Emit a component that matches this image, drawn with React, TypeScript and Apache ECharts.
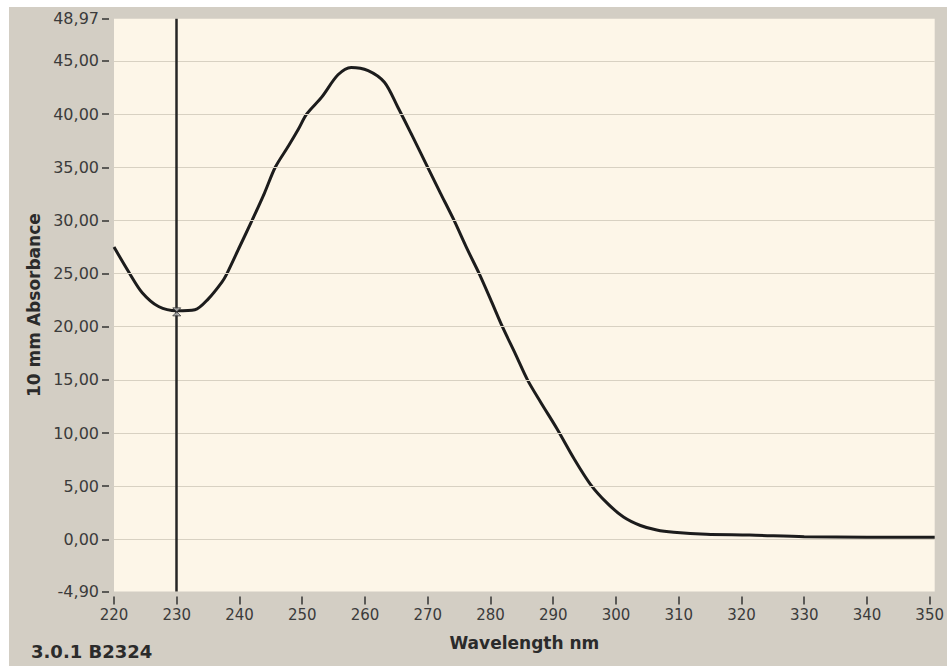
import React, { useEffect, useRef } from "react";
import * as echarts from "echarts";

// ---- data ----
const wavelengths = [
  220, 222.4, 224.5, 227.1, 230, 232.9, 235, 237.2, 238, 240, 242, 244, 245.7,
  247.8, 249.4, 250.7, 253.1, 255.7, 257.8, 260.5, 263.1, 265.2, 267.5, 270,
  272, 274.2, 276.3, 278.2, 280, 281.9, 284, 285.9, 288, 290.6, 293.3, 295.9,
  298.6, 301.2, 303.9, 306.5, 309.2, 314.4, 321.3, 330, 340, 350.8,
];
const absorbance = [
  27.5, 25.1, 23.2, 21.9, 21.5, 21.6, 22.6, 24.2, 25.0, 27.5, 30.0, 32.6, 35.0,
  37.0, 38.6, 40.0, 41.6, 43.7, 44.4, 44.1, 43.0, 40.7, 38.0, 35.0, 32.6, 30.0,
  27.3, 25.0, 22.6, 20.0, 17.4, 15.0, 12.9, 10.4, 7.6, 5.2, 3.4, 2.1, 1.3, 0.87,
  0.66, 0.47, 0.4, 0.25, 0.2, 0.2,
];
const xTickValues = [220, 230, 240, 250, 260, 270, 280, 290, 300, 310, 320, 330, 340, 350];
const yTickValues = [-4.9, 0, 5, 10, 15, 20, 25, 30, 35, 40, 45, 48.97];
const gridLineValues = [0, 5, 10, 15, 20, 25, 30, 35, 40, 45];
const xMin = 220;
const xMax = 350.8;
const yMin = -4.9;
const yMax = 48.97;
const cursorWavelength = 230;
const cursorAbsorbance = 21.4;
const xAxisTitle = "Wavelength nm";
const yAxisTitle = "10 mm Absorbance";
const footnote = "3.0.1 B2324";

const FONT = "'DejaVu Sans', Verdana, sans-serif";

export default function App() {
  const ref = useRef<HTMLDivElement>(null);

  useEffect(() => {
    if (!ref.current) return;
    const chart = echarts.init(ref.current, null, { renderer: "svg" });
    const lineData = wavelengths.map((w, i) => [w, absorbance[i]]);
    chart.setOption({
      animation: false,
      backgroundColor: "#d3cec4",
      textStyle: { fontFamily: FONT },
      grid: {
        left: 105,
        top: 11.8,
        width: 825,
        height: 572.6,
        show: true,
        backgroundColor: "#fdf6e8",
        borderWidth: 0,
      },
      xAxis: {
        type: "value",
        min: xMin,
        max: xMax,
        offset: 5,
        name: xAxisTitle,
        nameLocation: "middle",
        nameGap: 38,
        nameTextStyle: {
          fontFamily: FONT,
          fontWeight: "bold",
          fontSize: 17,
          color: "#2b2b2b",
        },
        axisLine: { show: false, onZero: false },
        axisTick: {
          show: true,
          length: 8,
          customValues: xTickValues,
          lineStyle: { color: "#333", width: 1.5 },
        },
        axisLabel: {
          customValues: xTickValues,
          margin: 11,
          fontFamily: FONT,
          fontSize: 15,
          color: "#3b3b3b",
        },
        splitLine: { show: false },
      },
      yAxis: {
        type: "value",
        min: yMin,
        max: yMax,
        offset: 5,
        name: yAxisTitle,
        nameLocation: "middle",
        nameGap: 64,
        nameTextStyle: {
          fontFamily: FONT,
          fontWeight: "bold",
          fontSize: 17,
          color: "#2b2b2b",
        },
        axisLine: { show: false, onZero: false },
        axisTick: {
          show: true,
          length: 7,
          customValues: yTickValues,
          lineStyle: { color: "#333", width: 1.5 },
        },
        axisLabel: {
          customValues: yTickValues,
          margin: 10,
          fontFamily: FONT,
          fontSize: 16,
          color: "#3b3b3b",
          formatter: (v: number) => v.toFixed(2).replace(".", ","),
        },
        splitLine: { show: false },
      },
      graphic: [
        {
          type: "text",
          left: 22,
          top: 635,
          style: {
            text: footnote,
            fontFamily: FONT,
            fontWeight: "bold",
            fontSize: 18,
            fill: "#2b2b2b",
          },
        },
      ],
      series: [
        {
          type: "line",
          data: [],
          silent: true,
          markLine: {
            silent: true,
            symbol: "none",
            label: { show: false },
            lineStyle: { color: "#d8d1c2", width: 1, type: "solid" },
            data: gridLineValues.map((v) => ({ yAxis: v })),
          },
          z: 1,
        },
        {
          type: "line",
          data: lineData,
          smooth: 0.3,
          showSymbol: false,
          lineStyle: { color: "#1c1c1c", width: 3 },
          z: 3,
          markLine: {
            silent: true,
            symbol: "none",
            label: { show: false },
            lineStyle: { color: "#262626", width: 2.5, type: "solid" },
            data: [{ xAxis: cursorWavelength }],
          },
        },
        {
          type: "scatter",
          data: [[cursorWavelength, cursorAbsorbance]],
          symbol: "path://M0,0 L10,0 L0,10 L10,10 Z",
          symbolSize: [8, 8],
          itemStyle: { color: "#b9b9b9", borderColor: "#333", borderWidth: 1 },
          z: 5,
        },
      ],
    });
    return () => chart.dispose();
  }, []);

  return (
    <div
      style={{
        position: "absolute",
        left: 0,
        top: 0,
        width: 947,
        height: 666,
        background: "#ffffff",
        overflow: "hidden",
      }}
    >
      <div
        ref={ref}
        style={{ position: "absolute", left: 9, top: 7, width: 938, height: 659 }}
      />
    </div>
  );
}
